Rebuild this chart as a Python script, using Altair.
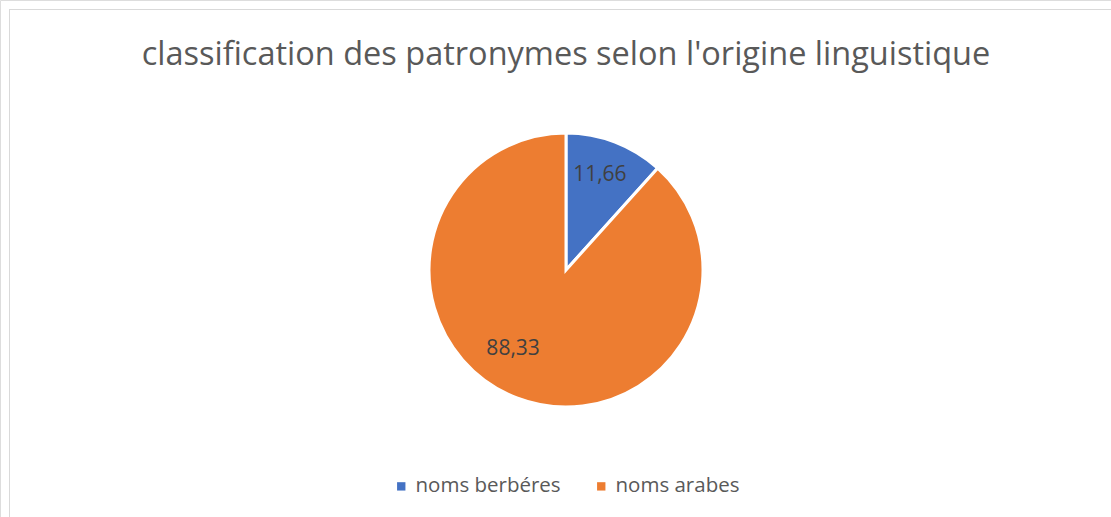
import altair as alt
import pandas as pd

categories = ["noms berbéres", "noms arabes"]
values = [11.66, 88.33]
labels = ["11,66", "88,33"]
colors = ["#4472C4", "#ED7D31"]
title_text = "classification des patronymes selon l'origine linguistique"

df = pd.DataFrame({"cat": categories, "value": values, "label": labels, "order": [0, 1]})

FONT = "Open Sans"
CX, CY, R = 566, 270, 137

base = alt.Chart(df)

pie = base.mark_arc(outerRadius=R, stroke="white", strokeWidth=3).encode(
    theta=alt.Theta("value:Q", stack=True),
    color=alt.Color(
        "cat:N",
        scale=alt.Scale(domain=categories, range=colors),
        sort=categories,
        legend=alt.Legend(
            title=None,
            orient="none",
            direction="horizontal",
            legendX=391,
            legendY=476,
            symbolType="square",
            symbolSize=70,
            symbolStrokeWidth=0,
            labelFont=FONT,
            labelFontSize=20.5,
            labelColor="#595959",
            labelOffset=4,
            columnPadding=30,
            padding=0,
        ),
    ),
    order=alt.Order("order:Q"),
    x=alt.value(CX),
    y=alt.value(CY),
)

def label_layer(cat, dx, dy):
    return base.transform_calculate(
        lab=f"datum.cat == '{cat}' ? datum.label : ''"
    ).mark_text(
        radius=103, font=FONT, fontSize=21, color="#404040", dx=dx, dy=dy
    ).encode(
        theta=alt.Theta("value:Q", stack=True),
        order=alt.Order("order:Q"),
        text="lab:N",
        x=alt.value(CX),
        y=alt.value(CY),
    )

lab1 = label_layer("noms berbéres", -3, 1)
lab2 = label_layer("noms arabes", -16, -17)

title = alt.Chart(pd.DataFrame({"t": [title_text]})).mark_text(
    font=FONT, fontSize=32.5, color="#595959", baseline="middle"
).encode(text="t:N", x=alt.value(566), y=alt.value(55))

border_top = alt.Chart(pd.DataFrame({"a": [0]})).mark_rule(color="#d9d9d9", strokeWidth=1).encode(
    x=alt.value(9), x2=alt.value(1111), y=alt.value(9.5)
)
border_left = alt.Chart(pd.DataFrame({"a": [0]})).mark_rule(color="#d9d9d9", strokeWidth=1).encode(
    x=alt.value(9.5), y=alt.value(9), y2=alt.value(517)
)

chart = alt.layer(border_top, border_left, title, pie, lab1, lab2).properties(
    width=1111, height=517, autosize=alt.AutoSizeParams(type="none"), padding=0
).configure_view(strokeWidth=0).configure(background="white")

chart.save("out.html", embed_options={"renderer": "svg", "actions": False})
